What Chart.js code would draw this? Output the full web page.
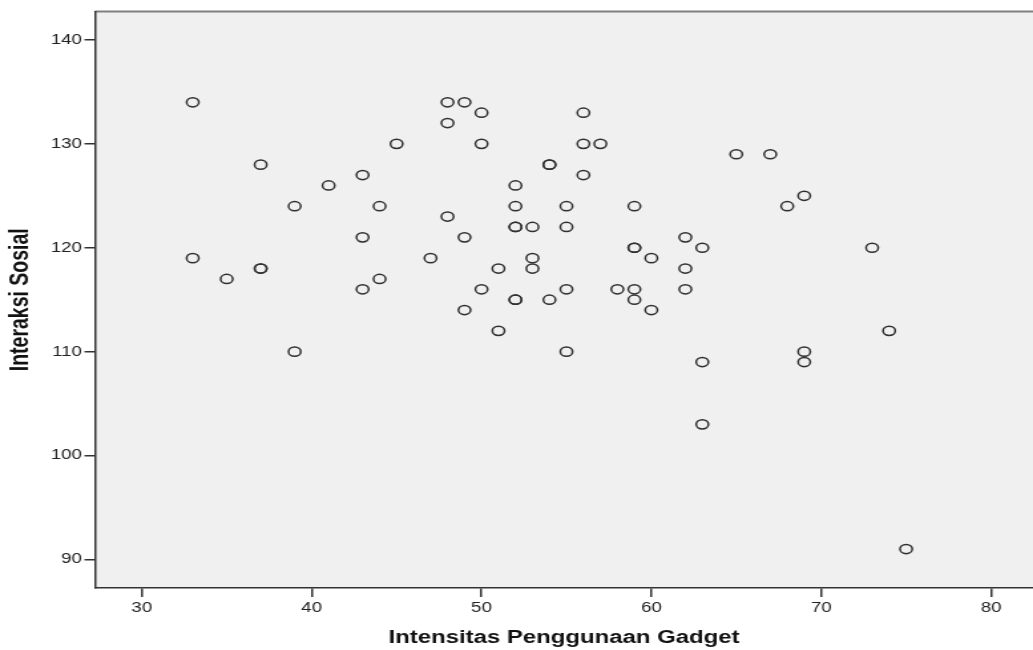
<!DOCTYPE html>
<html>
<head>
<meta charset="utf-8">
<script src="https://cdn.jsdelivr.net/npm/chart.js@4/dist/chart.umd.min.js"></script>
<style>
  html, body { margin: 0; padding: 0; background: #ffffff; overflow: hidden; }
  #wrap { width: 777px; height: 650px; transform: scaleX(1.3295); transform-origin: 0 0; }
  canvas { display: block; }
</style>
</head>
<body>
<div id="wrap"><canvas id="c" width="777" height="650"></canvas></div>
<script>
// Intensitas Penggunaan Gadget (x) and Interaksi Sosial (y)
const gadgetValues = [33,33,35,37,37,37,39,39,41,43,43,43,44,44,45,47,48,48,48,49,49,49,50,50,50,51,51,52,52,52,52,52,52,53,53,53,54,54,54,55,55,55,55,56,56,56,57,58,59,59,59,59,59,60,60,62,62,62,63,63,63,65,67,68,69,69,69,73,74,75];
const sosialValues = [134,119,117,128,118,118,124,110,126,127,121,116,124,117,130,119,134,132,123,134,121,114,133,130,116,118,112,126,124,122,122,115,115,122,119,118,128,128,115,124,122,116,110,133,130,127,130,116,124,120,120,116,115,119,114,121,118,116,120,109,103,129,129,124,125,110,109,120,112,91];
const xTickValues = [30,40,50,60,70,80];
const yTickValues = [90,100,110,120,130,140];
const xTitle = 'Intensitas Penggunaan Gadget';
const yTitle = 'Interaksi Sosial';

const points = gadgetValues.map((x, i) => ({ x: x, y: sosialValues[i] }));

const plotBg = {
  id: 'plotBg',
  beforeDraw(chart) {
    const { ctx, chartArea: a } = chart;
    ctx.save();
    ctx.fillStyle = '#f0f0f0';
    ctx.fillRect(a.left, a.top, a.right - a.left, a.bottom - a.top);
    ctx.strokeStyle = '#808080';
    ctx.lineWidth = 2;
    ctx.beginPath();
    ctx.moveTo(a.left, a.top);
    ctx.lineTo(a.right, a.top);
    ctx.stroke();
    ctx.restore();
  }
};

new Chart(document.getElementById('c'), {
  type: 'scatter',
  data: {
    datasets: [{
      data: points,
      pointStyle: 'circle',
      pointRadius: 4.6,
      pointHoverRadius: 4.6,
      borderWidth: 1.5,
      borderColor: '#303030',
      backgroundColor: 'rgba(0,0,0,0)'
    }]
  },
  options: {
    responsive: false,
    devicePixelRatio: 1,
    animation: false,
    layout: { autoPadding: false, padding: { top: 11.5, left: 0, right: 0, bottom: 0 } },
    plugins: { legend: { display: false }, tooltip: { enabled: false } },
    scales: {
      x: {
        type: 'linear',
        min: 27.25,
        max: 82.47,
        afterBuildTicks(scale) { scale.ticks = xTickValues.map(v => ({ value: v })); },
        afterFit(scale) { scale.height = 62; scale.paddingLeft = 0; scale.paddingRight = 0; },
        grid: { drawOnChartArea: false, drawTicks: true, tickLength: 9, color: '#333333', lineWidth: 1.5 },
        border: { display: true, color: '#333333', width: 1.5 },
        ticks: { color: '#222222', padding: 3, font: { family: 'Liberation Sans, Arial, sans-serif', size: 14 }, maxRotation: 0 },
        title: { display: true, text: xTitle, color: '#111111', padding: { top: 0, bottom: 1 },
                 font: { family: 'Liberation Sans, Arial, sans-serif', size: 18, weight: 'bold' } }
      },
      y: {
        type: 'linear',
        min: 87.25,
        max: 142.74,
        afterBuildTicks(scale) { scale.ticks = yTickValues.map(v => ({ value: v })); },
        afterFit(scale) { scale.width = 71.5; scale.paddingTop = 0; scale.paddingBottom = 0; },
        grid: { drawOnChartArea: false, drawTicks: true, tickLength: 8, color: '#333333', lineWidth: 1.5 },
        border: { display: true, color: '#333333', width: 1.5 },
        ticks: { color: '#222222', padding: 2, font: { family: 'Liberation Sans, Arial, sans-serif', size: 14 } },
        title: { display: true, text: yTitle, color: '#111111', padding: { top: 4, bottom: 0 },
                 font: { family: 'Liberation Sans, Arial, sans-serif', size: 19.5, weight: 'bold' } }
      }
    }
  },
  plugins: [plotBg]
});
</script>
</body>
</html>
